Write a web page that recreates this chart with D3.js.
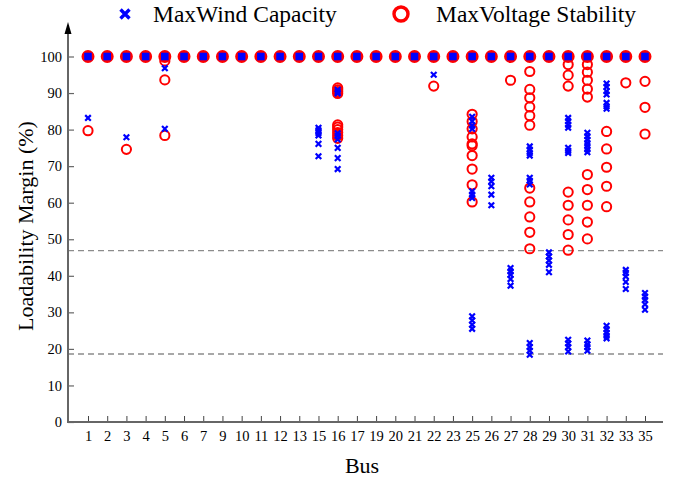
<!DOCTYPE html>
<html>
<head>
<meta charset="utf-8">
<script src="https://cdn.jsdelivr.net/npm/d3@7"></script>
<style>
  body { margin: 0; background: #fff; }
  text { font-family: "Liberation Serif", "Times New Roman", serif; fill: #000; }
</style>
</head>
<body>
<svg width="674" height="480"></svg>
<script>
var svg = d3.select("svg");

// Data: buses and loadability margins (%) per scenario
var buses = ["1", "2", "3", "4", "5", "6", "7", "9", "10", "11", "12", "13", "15", "16", "17",
             "19", "20", "21", "22", "23", "25", "26", "27", "28", "29", "30", "31", "32", "33", "35"];

var windMargins = [
    [100, 83.2], [100], [100, 77.9], [100], [100, 96.8, 80.2],
    [100], [100], [100], [100], [100], [100], [100],
    [100, 80.5, 79.8, 79.1, 78.4, 76.1, 72.7],
    [100, 90.9, 90.3, 89.9, 79.0, 78.3, 77.3, 75.0, 72.2, 69.2],
    [100], [100], [100], [100],
    [100, 95.0],
    [100],
    [100, 83.5, 82.3, 81.1, 80.2, 63.1, 62.2, 61.3, 28.9, 27.8, 26.6, 25.5],
    [100, 66.8, 65.8, 64.5, 62.2, 59.3],
    [100, 42.1, 41.2, 40.3, 39.1, 37.3],
    [100, 75.4, 74.5, 73.6, 72.9, 66.8, 66.0, 65.0, 21.6, 20.5, 19.5, 18.4],
    [100, 46.4, 45.3, 44.2, 43.0, 41.0],
    [100, 83.2, 82.3, 81.3, 80.5, 75.0, 74.2, 73.6, 22.5, 21.5, 20.5, 19.3],
    [100, 79.1, 78.2, 77.2, 76.3, 75.5, 74.6, 73.8, 22.3, 21.3, 20.5, 19.5],
    [100, 92.6, 91.7, 90.5, 89.6, 87.3, 86.4, 85.7, 26.3, 25.4, 24.4, 23.6, 22.9],
    [100, 41.6, 40.8, 39.8, 38.3, 36.4],
    [100, 35.3, 34.3, 33.4, 32.2, 30.7]
];

var voltageMargins = [
    [100, 79.7], [100], [100, 74.6], [100], [100, 98.8, 93.6, 78.4],
    [100], [100], [100], [100], [100], [100], [100],
    [100],
    [100, 91.4, 90.9, 90.4, 89.9, 81.3, 80.7, 80.0, 79.2, 78.4, 77.6],
    [100], [100], [100], [100],
    [100, 91.9],
    [100],
    [100, 84.2, 82.2, 80.2, 78.0, 76.1, 75.6, 72.9, 69.2, 64.9, 60.2],
    [100],
    [100, 93.5],
    [100, 95.9, 91.0, 88.7, 86.2, 83.8, 81.2, 64.0, 60.2, 56.1, 51.9, 47.4],
    [100],
    [100, 97.8, 94.9, 91.9, 62.9, 59.3, 55.3, 51.3, 47.0],
    [100, 97.8, 95.7, 93.5, 91.1, 88.9, 67.7, 63.6, 59.3, 54.7, 50.1],
    [100, 79.5, 74.7, 69.7, 64.5, 58.9],
    [100, 92.8],
    [100, 93.2, 86.1, 78.8]
];

var thresholds = [46.9, 18.6];
var yTicks = [0, 10, 20, 30, 40, 50, 60, 70, 80, 90, 100];

// Scales
var x = d3.scalePoint().domain(buses).range([88, 645]);
var y = d3.scaleLinear().domain([0, 100]).range([422, 56.5]);
var x0 = 68, x1 = 663, yTop = 24;

function flatten(arr) {
    var out = [];
    arr.forEach(function(vals, i) {
        vals.forEach(function(v) { out.push({ bus: buses[i], value: v }); });
    });
    return out;
}
var windPts = flatten(windMargins);
var voltPts = flatten(voltageMargins);

// Threshold lines
svg.selectAll(".thr")
    .data(thresholds)
    .enter()
    .append("line")
    .attr("x1", x0).attr("x2", x1)
    .attr("y1", function(d) { return y(d); })
    .attr("y2", function(d) { return y(d); })
    .style("stroke", "#8c8c8c")
    .style("stroke-width", 1.3)
    .style("stroke-dasharray", "6,4");

// Axes
var yAxis = d3.axisLeft(y).tickValues(yTicks).tickSizeInner(-6).tickSizeOuter(0).tickPadding(6);
var gy = svg.append("g").attr("transform", "translate(" + x0 + ",0)").call(yAxis);
gy.select(".domain").remove();
gy.selectAll(".tick line").style("stroke", "#666").style("stroke-width", 1.2);
gy.selectAll("text").style("font-size", "14.5px").style("font-family", "Liberation Serif");

var xAxis = d3.axisBottom(x).tickSizeInner(-6).tickSizeOuter(0).tickPadding(9);
var gx = svg.append("g").attr("transform", "translate(0,422)").call(xAxis);
gx.select(".domain").remove();
gx.selectAll(".tick line").style("stroke", "#444").style("stroke-width", 1);
gx.selectAll("text").style("font-size", "14.5px").style("font-family", "Liberation Serif");

svg.append("line").attr("x1", x0).attr("x2", x1).attr("y1", 422).attr("y2", 422)
    .style("stroke", "#666").style("stroke-width", 2);
svg.append("line").attr("x1", x0).attr("x2", x0).attr("y1", 423).attr("y2", yTop + 4)
    .style("stroke", "#666").style("stroke-width", 2);
svg.append("path")
    .attr("d", "M" + (x0 - 3.5) + "," + (yTop + 10) + " L" + x0 + "," + (yTop - 2) + " L" + (x0 + 3.5) + "," + (yTop + 10) + " Z")
    .style("fill", "#000");

// Voltage stability markers (circles)
svg.selectAll(".volt")
    .data(voltPts)
    .enter()
    .append("circle")
    .attr("class", "volt")
    .attr("cx", function(d) { return x(d.bus); })
    .attr("cy", function(d) { return y(d.value); })
    .attr("r", function(d) { return d.value === 100 ? 5.5 : 4.6; })
    .style("fill", function(d) { return d.value === 100 ? "#ff0000" : "none"; })
    .style("stroke", "#ff0000")
    .style("stroke-width", 2);

// Wind capacity markers (crosses); saturated 100% points drawn as a block
var crossPath = "M-2.8,-2.8L2.8,2.8M-2.8,2.8L2.8,-2.8";
svg.selectAll(".wind")
    .data(windPts.filter(function(d) { return d.value !== 100; }))
    .enter()
    .append("path")
    .attr("class", "wind")
    .attr("transform", function(d) { return "translate(" + x(d.bus) + "," + y(d.value) + ")"; })
    .attr("d", crossPath)
    .style("stroke", "#0000ff")
    .style("stroke-width", 2.2)
    .style("fill", "none");

svg.selectAll(".windfull")
    .data(windPts.filter(function(d) { return d.value === 100; }))
    .enter()
    .append("rect")
    .attr("x", function(d) { return x(d.bus) - 3.8; })
    .attr("y", function(d) { return y(d.value) - 3.8; })
    .attr("width", 7.6)
    .attr("height", 7.6)
    .style("fill", "#0000ff");

// Axis titles
svg.append("text")
    .attr("text-anchor", "middle")
    .attr("x", 362).attr("y", 473)
    .style("font-size", "22px")
    .text("Bus");

svg.append("text")
    .attr("text-anchor", "middle")
    .attr("transform", "translate(33,226) rotate(-90)")
    .style("font-size", "22px")
    .text("Loadability Margin (%)");

// Legend
svg.append("path")
    .attr("transform", "translate(125,14)")
    .attr("d", "M-4.5,-4.5L4.5,4.5M-4.5,4.5L4.5,-4.5")
    .style("stroke", "#0000ff").style("stroke-width", 3.4).style("fill", "none");
svg.append("text").attr("x", 153).attr("y", 22).style("font-size", "23.5px").text("MaxWind Capacity");
svg.append("circle").attr("cx", 401).attr("cy", 14).attr("r", 7)
    .style("fill", "none").style("stroke", "#ff0000").style("stroke-width", 3.4);
svg.append("text").attr("x", 436).attr("y", 22).style("font-size", "23.5px").text("MaxVoltage Stability");
</script>
</body>
</html>
